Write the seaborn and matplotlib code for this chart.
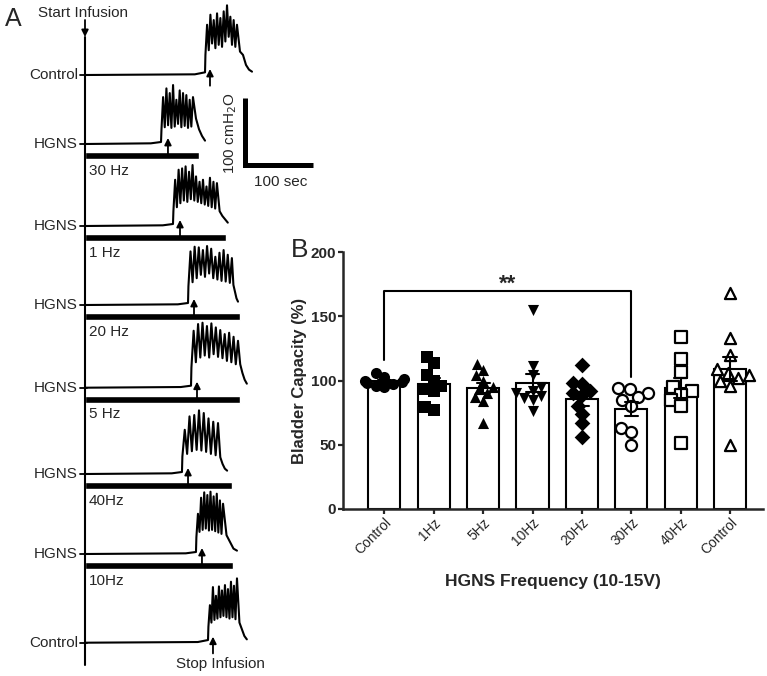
import numpy as np
import pandas as pd
import seaborn as sns
import matplotlib
matplotlib.use("Agg")
import matplotlib.pyplot as plt

# ---------------- Panel B: bladder capacity (%) per group ----------------
groups = ["Control_pre", "1Hz", "5Hz", "10Hz", "20Hz", "30Hz", "40Hz", "Control_post"]
tick_labels = ["Control", "1Hz", "5Hz", "10Hz", "20Hz", "30Hz", "40Hz", "Control"]
control_pre = [95, 96, 97, 98, 99, 100, 101, 103, 106]
hz1 = [118, 114, 104, 100, 96, 93, 92, 79, 77]
hz5 = [113, 108, 104, 100, 95, 93, 90, 87, 84, 67]
hz10 = [155, 111, 104, 95, 92, 90, 88, 86, 85, 76]
hz20 = [112, 98, 97, 92, 90, 89, 80, 74, 67, 56]
hz30 = [94, 93, 90, 87, 85, 80, 63, 60, 50]
hz40 = [134, 117, 107, 95, 92, 89, 85, 80, 51]
control_post = [168, 133, 120, 109, 106, 104, 102, 100, 96, 50]
group_values = [control_pre, hz1, hz5, hz10, hz20, hz30, hz40, control_post]
markers = ["o", "s", "^", "v", "D", "o", "s", "^"]
filled = [True, True, True, True, True, False, False, False]

# ---------------- Panel A: cystometry traces (sec, cmH2O) ----------------
trace_labels = ["Control", "HGNS", "HGNS", "HGNS", "HGNS", "HGNS", "HGNS", "Control"]
stim_labels = [None, "30 Hz", "1 Hz", "20 Hz", "5 Hz", "40Hz", "10Hz", None]
stim_end = [None, 167.6, 207.4, 228.0, 228.0, 216.6, 218.1, None]
onset = [176.5, 111.8, 129.4, 151.5, 155.9, 142.6, 163.2, 180.9]
burst_end = [223.5, 158.8, 194.0, 216.0, 225.0, 195.6, 203.0, 223.5]
decay_end = [245.6, 176.5, 210.0, 225.0, 238.0, 209.0, 223.5, 238.0]
arrow_t = [183.8, 122.0, 139.7, 160.3, 164.7, 151.5, 172.0, 188.2]
pre_level = [4, 3, 3, 3, 3, 3, 3, 4]

ctrl1_peaks = [75, 90, 82, 92, 85, 95, 104, 87, 82, 75]
ctrl1_troughs = [30, 37, 47, 40, 45, 42, 50, 57, 45, 42]
ctrl1_decay = [35, 30, 15, 8, 5]
hz30_peaks = [70, 83, 76, 88, 66, 80, 76, 73, 66, 70]
hz30_troughs = [20, 25, 28, 24, 26, 30, 25, 27, 24, 26]
hz30_decay = [38, 22, 12, 5]
hz1_peaks = [69, 84, 86, 89, 81, 91, 74, 66, 69, 59, 72, 66, 64]
hz1_troughs = [22, 28, 34, 38, 36, 40, 38, 36, 34, 32, 30, 28, 26]
hz1_decay = [22, 15, 10, 5]
hz20_peaks = [80, 87, 86, 82, 88, 84, 72, 78, 82, 75, 70]
hz20_troughs = [28, 34, 40, 45, 42, 47, 40, 38, 36, 35, 33]
hz20_decay = [30, 20, 10, 5]
hz5_peaks = [85, 95, 97, 92, 96, 90, 86, 80, 82, 76, 70]
hz5_troughs = [30, 38, 45, 48, 45, 50, 46, 44, 40, 38, 35]
hz5_decay = [35, 22, 12, 6]
hz40_peaks = [66, 86, 88, 95, 91, 83, 78, 76]
hz40_troughs = [26, 30, 34, 36, 35, 33, 30, 28]
hz40_decay = [25, 15, 8, 5]
hz10_peaks = [60, 84, 92, 88, 93, 86, 90, 80, 75]
hz10_troughs = [25, 33, 36, 38, 35, 36, 34, 32, 30]
hz10_decay = [28, 18, 8, 5]
ctrl2_peaks = [56, 83, 70, 84, 78, 86, 80, 91, 85, 96]
ctrl2_troughs = [24, 30, 34, 36, 38, 40, 38, 36, 38, 35]
ctrl2_decay = [30, 20, 10, 5]

all_peaks = [ctrl1_peaks, hz30_peaks, hz1_peaks, hz20_peaks, hz5_peaks, hz40_peaks, hz10_peaks, ctrl2_peaks]
all_troughs = [ctrl1_troughs, hz30_troughs, hz1_troughs, hz20_troughs, hz5_troughs, hz40_troughs, hz10_troughs, ctrl2_troughs]
all_decay = [ctrl1_decay, hz30_decay, hz1_decay, hz20_decay, hz5_decay, hz40_decay, hz10_decay, ctrl2_decay]

sns.set_style("ticks")
plt.rcParams["font.family"] = ["Liberation Sans", "DejaVu Sans"]

W, H = 767, 676
fig = plt.figure(figsize=(W / 100, H / 100), dpi=100)

# layout helpers (pixel -> data units of panel A)
def t_of(px):
    return (px - 85) / 0.68

def cm_of(py):
    return (H - py) / 0.67

ax_a = fig.add_axes([0, 0, 322 / W, 1])
ax_a.set_xlim(t_of(0), t_of(322))
ax_a.set_ylim(0, cm_of(0))
ax_a.axis("off")

baselines_py = [75, 144, 226, 305, 387.7, 474, 554, 642.7]


def build_trace(t0, t1, t2, pre, peaks, troughs, decay):
    # flat filling phase, then the voiding burst, then the decay back down
    t = [0, t0 - 15, t0]
    p = [0, 1, pre]
    times = np.linspace(t0 + 0.6, t1, 2 * len(peaks))
    for i in range(len(peaks)):
        t += [times[2 * i], times[2 * i + 1]]
        p += [troughs[i], peaks[i]]
    t += list(np.linspace(t1, t2, len(decay) + 1)[1:])
    p += list(decay)
    return np.array(t), np.array(p, dtype=float)


for i, bpy in enumerate(baselines_py):
    base = cm_of(bpy)
    t, p = build_trace(onset[i], burst_end[i], decay_end[i], pre_level[i],
                       all_peaks[i], all_troughs[i], all_decay[i])
    sns.lineplot(x=t, y=p + base, ax=ax_a, color="black", lw=1.5,
                 sort=False, estimator=None)
    ax_a.plot([t_of(80), t_of(87)], [base, base], color="black", lw=1.3)
    ax_a.text(t_of(78), base, trace_labels[i], ha="right", va="center", fontsize=11)
    ax_a.annotate("", xy=(arrow_t[i], base + 9), xytext=(arrow_t[i], base - 16),
                  arrowprops=dict(arrowstyle="-|>", color="black", lw=1.3,
                                  mutation_scale=10, shrinkA=0, shrinkB=0))
    if stim_end[i] is not None:
        ax_a.barh(y=base - 17, width=stim_end[i], left=0, height=10.4, color="black")
        ax_a.text(t_of(89), base - 40, stim_labels[i], ha="left", va="center", fontsize=11)

# vertical time axis and infusion markers
ax_a.plot([0, 0], [cm_of(37), cm_of(665)], color="black", lw=1.5)
ax_a.annotate("", xy=(0, cm_of(37)), xytext=(0, cm_of(20)),
              arrowprops=dict(arrowstyle="-|>", color="black", lw=1.3,
                              mutation_scale=10, shrinkA=0, shrinkB=0))
ax_a.text(t_of(83), cm_of(13), "Start Infusion", ha="center", va="center", fontsize=11)
ax_a.text(t_of(220), cm_of(664), "Stop Infusion", ha="center", va="center", fontsize=11)

# scale bar
ax_a.plot([t_of(245), t_of(245), t_of(245) + 100],
          [cm_of(165) + 100, cm_of(165), cm_of(165)],
          color="black", lw=3.6, solid_joinstyle="miter", solid_capstyle="butt")
ax_a.text(t_of(231), cm_of(133), "100 cmH$_2$O", rotation=90, ha="center",
          va="center", fontsize=11)
ax_a.text(t_of(281), cm_of(182), "100 sec", ha="center", va="center", fontsize=11)

fig.text(5 / W, 1 - 26 / H, "A", fontsize=18, ha="left", va="baseline")

# ---------------- Panel B ----------------
df = pd.DataFrame({
    "group": [g for g, v in zip(groups, group_values) for _ in v],
    "value": [x for v in group_values for x in v],
})

ax_b = fig.add_axes([343 / W, (H - 509) / H, 420 / W, 257 / H])
sns.barplot(data=df, x="group", y="value", order=groups, errorbar="se",
            capsize=0.27, color="white", saturation=1, edgecolor="black",
            linewidth=1.5, width=0.65, err_kws={"color": "black", "linewidth": 1.5},
            ax=ax_b)

n_before = len(ax_b.collections)
for g, vals, m, f in zip(groups, group_values, markers, filled):
    # swarm with a smaller footprint so the points overlap like the original
    sns.swarmplot(x=[g] * len(vals), y=vals, order=groups, marker=m, size=6.2,
                  color="black" if f else "white", edgecolor="black",
                  linewidth=0 if f else 1.6, ax=ax_b)

for ln in ax_b.lines:
    ln.set_zorder(4)

# significance bracket
ax_b.plot([0, 0, 5, 5], [116, 169.5, 169.5, 103], color="black", lw=1.5, zorder=4)
ax_b.text(2.5, 175, "**", ha="center", va="center", fontsize=16, fontweight="bold")

ax_b.set_xlim(-0.84, 7.67)
ax_b.set_ylim(0, 200)
ax_b.set_yticks([0, 50, 100, 150, 200])
ax_b.set_xticks(range(len(groups)))
ax_b.set_xticklabels(tick_labels, rotation=45, ha="right", rotation_mode="anchor",
                     fontsize=10)
for lab in ax_b.get_yticklabels():
    lab.set_fontweight("bold")
    lab.set_fontsize(11)
ax_b.tick_params(axis="both", length=3.6, width=1.6, direction="out", pad=1.2)
sns.despine(ax=ax_b)
for s in ["left", "bottom"]:
    ax_b.spines[s].set_linewidth(1.8)
ax_b.set_ylabel("Bladder Capacity (%)", fontsize=12, fontweight="bold", labelpad=3)
ax_b.set_xlabel("HGNS Frequency (10-15V)", fontsize=12.5, fontweight="bold", labelpad=12)

fig.text(291 / W, 1 - 257 / H, "B", fontsize=19, ha="left", va="baseline")

# fix the swarm positions, then show the markers at full size
fig.canvas.draw()
for coll in ax_b.collections[n_before:]:
    if "draw" in coll.__dict__:
        del coll.draw
    coll.set_sizes([8.0 ** 2])

fig.savefig("out.png", dpi=100)
